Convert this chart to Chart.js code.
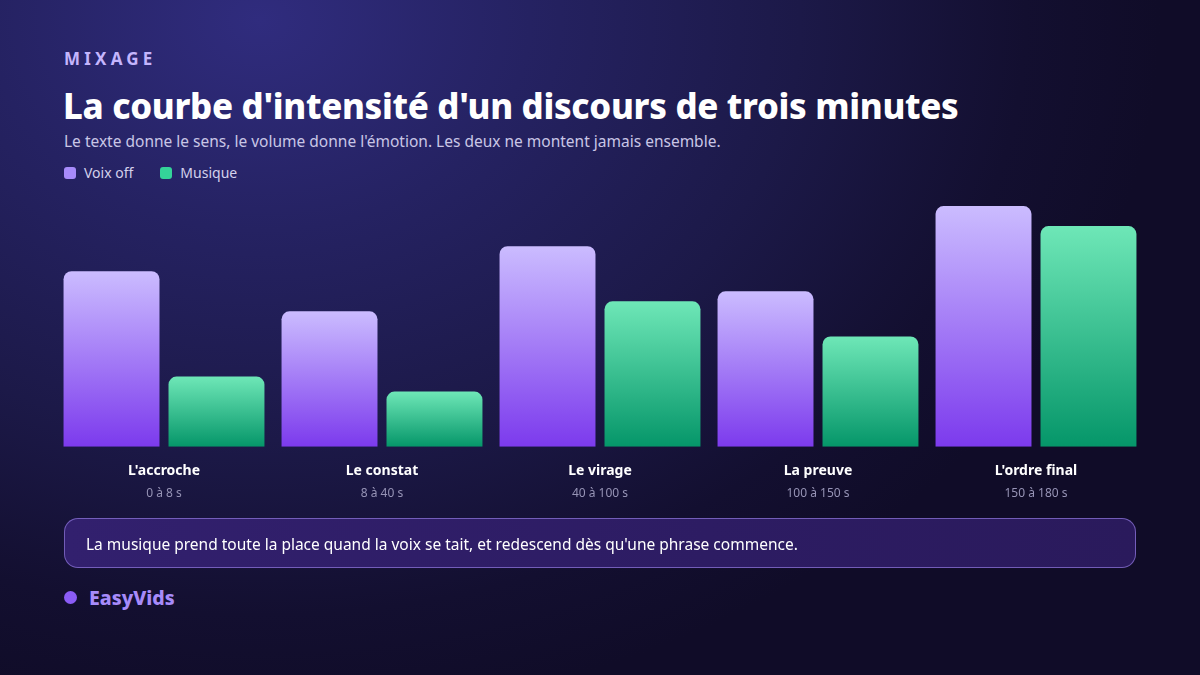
<!DOCTYPE html>
<html>
<head>
<meta charset="utf-8">
<script src="https://cdn.jsdelivr.net/npm/chart.js@4.4.0/dist/chart.umd.min.js"></script>
<style>
  html, body { margin:0; padding:0; }
  body {
    width:1200px; height:675px; overflow:hidden; position:relative;
    font-family: "Noto Sans", "Open Sans", sans-serif;
    background: radial-gradient(ellipse 900px 700px at 260px 20px, #302c7e 0%, #252262 30%, #1c1948 60%, #130f30 85%, #100c28 100%);
    color:#fff;
  }
  .kicker { position:absolute; left:64px; top:47px; font-size:17px; font-weight:700; letter-spacing:4.2px; color:#c4b5fd; }
  .title { position:absolute; left:63px; top:82px; font-size:34.8px; font-weight:800; color:#fff; letter-spacing:-0.3px; white-space:nowrap; }
  .sub { position:absolute; left:64px; top:130px; font-size:15.5px; color:#c9c6e6; white-space:nowrap; }
  .legend { position:absolute; left:64px; top:163px; font-size:14px; color:#d4d1ec; display:flex; gap:0; }
  .legend span { display:inline-flex; align-items:center; margin-right:27px; }
  .legend i { width:12px; height:12px; border-radius:3px; display:inline-block; margin-right:8px; }
  #wrap { position:absolute; left:55px; top:196px; width:1090px; height:337px; }
  .callout { position:absolute; left:64px; top:518px; width:1070px; height:48px; border:1px solid rgba(139,115,214,0.75); border-radius:14px;
    background: linear-gradient(90deg, #32206e 0%, #2d1c63 60%, #2a1a5c 100%); box-sizing:content-box; }
  .callout p { margin:0; position:absolute; left:21px; top:14px; font-size:15.5px; color:#fff; white-space:nowrap; }
  .brand { position:absolute; left:64px; top:584px; display:flex; align-items:center; }
  .brand i { width:13px; height:13px; border-radius:50%; background:#8b5cf6; display:inline-block; margin-right:12px; }
  .brand b { font-size:19.5px; font-weight:800; color:#a78bfa; }
</style>
</head>
<body>
<div class="kicker">MIXAGE</div>
<div class="title">La courbe d'intensité d'un discours de trois minutes</div>
<div class="sub">Le texte donne le sens, le volume donne l'émotion. Les deux ne montent jamais ensemble.</div>
<div class="legend"><span><i style="background:#a78bfa"></i>Voix off</span><span><i style="background:#34d399"></i>Musique</span></div>
<div id="wrap"><canvas id="c"></canvas></div>
<div class="callout"><p>La musique prend toute la place quand la voix se tait, et redescend dès qu'une phrase commence.</p></div>
<div class="brand"><i></i><b>EasyVids</b></div>
<script>
const categories = ["L'accroche", "Le constat", "Le virage", "La preuve", "L'ordre final"];
const timeRanges = ["0 à 8 s", "8 à 40 s", "40 à 100 s", "100 à 150 s", "150 à 180 s"];
const voixOff = [70, 54, 80, 62, 96];
const musique = [28, 22, 58, 44, 88];

function grad(top, bottom) {
  return function(context) {
    const chart = context.chart;
    const y = chart.scales && chart.scales.y;
    if (!chart.chartArea || !y || context.raw == null) return bottom;
    const yt = y.getPixelForValue(context.raw);
    const yb = y.getPixelForValue(0);
    const g = chart.ctx.createLinearGradient(0, yt, 0, yb);
    g.addColorStop(0, top);
    g.addColorStop(1, bottom);
    return g;
  };
}

const subLabels = {
  id: 'subLabels',
  afterDraw(chart) {
    const x = chart.scales.x;
    const ctx = chart.ctx;
    ctx.save();
    ctx.font = '12px "Noto Sans"';
    ctx.fillStyle = '#9794b6';
    ctx.textAlign = 'center';
    ctx.textBaseline = 'middle';
    timeRanges.forEach((t, i) => ctx.fillText(t, x.getPixelForValue(i), x.top + 46.5));
    ctx.restore();
  }
};

new Chart(document.getElementById('c'), {
  type: 'bar',
  data: {
    labels: categories,
    datasets: [
      { label: 'Voix off', data: voixOff, backgroundColor: grad('#cbbcff', '#7c3aed'), borderRadius: {topLeft:8, topRight:8}, borderSkipped: 'bottom', barPercentage: 0.914, categoryPercentage: 0.963 },
      { label: 'Musique', data: musique, backgroundColor: grad('#6ee7b7', '#059669'), borderRadius: {topLeft:8, topRight:8}, borderSkipped: 'bottom', barPercentage: 0.914, categoryPercentage: 0.963 }
    ]
  },
  plugins: [subLabels],
  options: {
    responsive: true, maintainAspectRatio: false, animation: false,
    layout: { padding: { top: 0, left: 0, right: 0, bottom: 37 } },
    plugins: { legend: { display: false }, tooltip: { enabled: false } },
    scales: {
      y: { display: false, min: 0, max: 100 },
      x: {
        grid: { display: false, drawTicks: false }, border: { display: false },
        ticks: { color: '#ffffff', font: { family: 'Noto Sans', size: 14, weight: 'bold' }, padding: 16.2 }
      }
    }
  }
});
</script>
</body>
</html>
